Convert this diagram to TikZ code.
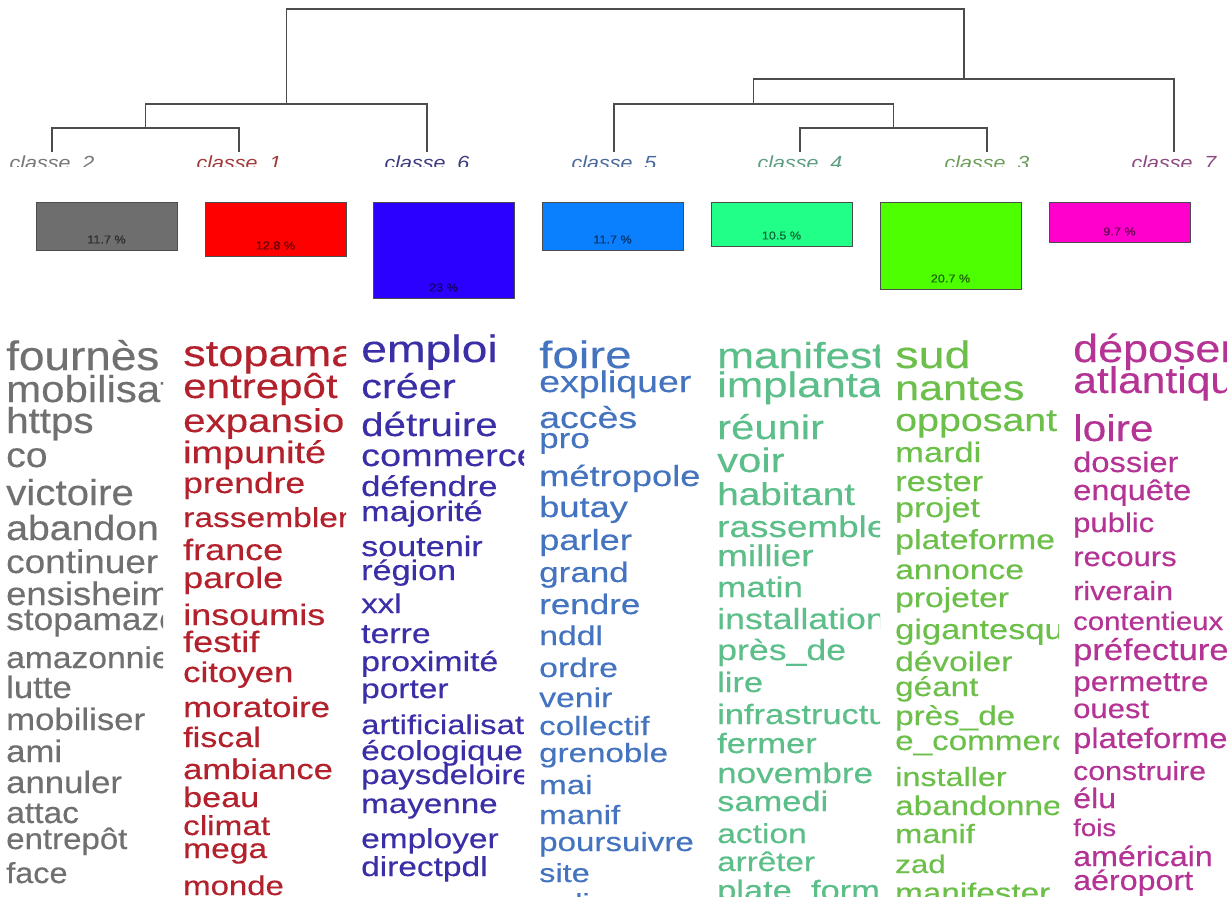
\documentclass[tikz,border=0pt]{standalone}
\usepackage{fontspec}
\setmainfont{Liberation Sans}
\newfontfamily\wfA{Liberation Sans}[FakeStretch=1.12,FakeBold=0.3]
\newfontfamily\wfB{Liberation Sans}[FakeStretch=1.22,FakeBold=0.3]
\newfontfamily\wfC{Liberation Sans}[FakeStretch=1.25,FakeBold=0.3]
\newfontfamily\wfD{Liberation Sans}[FakeStretch=1.23,FakeBold=0.3]
\newfontfamily\wfE{Liberation Sans}[FakeStretch=1.15,FakeBold=0.3]
\newfontfamily\labfont{Liberation Sans}[FakeStretch=1.13]
\newfontfamily\pctfont{Liberation Sans}[FakeStretch=1.1,FakeBold=0.4]
\definecolor{cgrey}{HTML}{707070}
\definecolor{cred}{HTML}{B3222C}
\definecolor{cblue}{HTML}{3B2FA8}
\definecolor{csky}{HTML}{4474C0}
\definecolor{cmint}{HTML}{5CBE88}
\definecolor{cgreen}{HTML}{6CC04A}
\definecolor{cmag}{HTML}{B43394}
\definecolor{fgrey}{HTML}{6E6E6E}
\definecolor{fred}{HTML}{FF0000}
\definecolor{fblue}{HTML}{2B00FF}
\definecolor{fsky}{HTML}{0A80FF}
\definecolor{fmint}{HTML}{22FF88}
\definecolor{fgreen}{HTML}{4DFF00}
\definecolor{fmag}{HTML}{FF00CC}
\definecolor{lgrey}{HTML}{777777}
\definecolor{lred}{HTML}{A33A3A}
\definecolor{lblue}{HTML}{3C3C80}
\definecolor{lsky}{HTML}{4A6A9C}
\definecolor{lmint}{HTML}{5E9E80}
\definecolor{lgreen}{HTML}{6E9E5C}
\definecolor{lmag}{HTML}{8E4A80}
\tikzset{
  dend/.style={draw=black!70, line width=1.2pt},
  classlab/.style={inner sep=0pt, anchor=base, font=\labfont\fontsize{19}{19}\selectfont\itshape},
  pbox/.style={draw=black!70, line width=1pt},
  pct/.style={inner sep=0pt, font=\pctfont\fontsize{11.5}{11.5}\selectfont},
  word/.style={inner sep=0pt, anchor=base west},
}
\newcommand\wordcol[6]{%
  \begin{scope}
    \clip (#2-5,310) rectangle (#3,897);
    \foreach \s/\b/\t [count=\i] in {#6} {
      \node[word, text=#4, font=#5\fontsize{\s}{\s}\selectfont] (#1w\i) at (#2,\b) {\t};
    }
  \end{scope}}
\begin{document}
\begin{tikzpicture}[x=1pt,y=-1pt]
\useasboundingbox (0,0) rectangle (1227,897);
\fill[white] (0,0) rectangle (1227,897);
\clip (0,0) rectangle (1227,897);
% dendrogram coordinates
\coordinate (L2) at (52,152);
\coordinate (L1) at (239,152);
\coordinate (L6) at (427,152);
\coordinate (L5) at (614,152);
\coordinate (L4) at (800,152);
\coordinate (L3) at (987,152);
\coordinate (L7) at (1174,152);
\coordinate (m21) at (145.5,128);
\coordinate (m216) at (286.5,104);
\coordinate (m43) at (893.5,128);
\coordinate (m543) at (753.75,104);
\coordinate (m5437) at (963.9,79);
\coordinate (root) at (625,9);
\draw[dend] (L2) |- (m21) -| (L1);
\draw[dend] (m21) |- (m216) -| (L6);
\draw[dend] (L4) |- (m43) -| (L3);
\draw[dend] (L5) |- (m543) -| (m43);
\draw[dend] (m543) |- (m5437) -| (L7);
\draw[dend] (m216) |- (root) -| (m5437);
% class labels (clipped at bottom)
\begin{scope}
\clip (0,140) rectangle (1227,166.5);
\node[classlab, text=lgrey] (lab2) at (52,169) {classe\_2};
\node[classlab, text=lred] (lab1) at (239,169) {classe\_1};
\node[classlab, text=lblue] (lab6) at (427,169) {classe\_6};
\node[classlab, text=lsky] (lab5) at (614,169) {classe\_5};
\node[classlab, text=lmint] (lab4) at (800,169) {classe\_4};
\node[classlab, text=lgreen] (lab3) at (987,169) {classe\_3};
\node[classlab, text=lmag] (lab7) at (1174,169) {classe\_7};
\end{scope}
% percentage boxes
\foreach \n/\x/\h/\c/\p in {b2/36/48/fgrey/11.7, b1/205/54/fred/12.8, b6/373/96/fblue/23, b5/542/48/fsky/11.7, b4/711/44/fmint/10.5, b3/880/87/fgreen/20.7, b7/1049/40/fmag/9.7}{
  \draw[pbox, fill=\c] (\x,202) rectangle (\x+141,202+\h);
  \node[pct, text=\c!40!black] (\n) at (\x+70.5,202+\h-10.5) {\p\ \%};
}
% word columns
\wordcol{c2}{6}{163}{cgrey}{\wfA}{41/370/fournès, 37.5/402/mobilisation, 36/433/https, 35/467/co, 36/505/victoire, 35/540/abandon, 33/573/continuer, 32.5/605/ensisheim, 31.5/630/stopamazon, 30/668/amazonnie, 31/698/lutte, 31/730/mobiliser, 31/762/ami, 31/793/annuler, 30/823/attac, 29.5/849/entrepôt, 29/883/face, 29/913/cours}
\wordcol{c1}{183}{346}{cred}{\wfB}{37/366/stopamazon, 34.5/398/entrepôt, 33/432/expansion, 31/463/impunité, 29/493/prendre, 27.5/527/rassemblement, 29.5/560/france, 29.5/588/parole, 29.5/625/insoumis, 29.5/652/festif, 28.5/682/citoyen, 28.5/717/moratoire, 28/747/fiscal, 28.3/779/ambiance, 28/807/beau, 27.3/835/climat, 27.5/858/mega, 27/895/monde}
\wordcol{c6}{361}{524}{cblue}{\wfB}{38/362/emploi, 34/398/créer, 33/436/détruire, 31/466/commerce, 28.3/496/défendre, 28/521/majorité, 28/556/soutenir, 28/580/région, 27/613/xxl, 27.7/643/terre, 27.7/671/proximité, 27.4/698/porter, 27/734/artificialisation, 27.4/760/écologique, 27.2/784/paysdeloire, 27.2/813/mayenne, 27.4/848/employer, 27.4/876/directpdl}
\wordcol{c5}{539}{702}{csky}{\wfC}{38/368/foire, 30/392/expliquer, 30/428/accès, 28/448/pro, 29/486/métropole, 29/517/butay, 29/550/parler, 28/582/grand, 28/614/rendre, 27/645/nddl, 27/677/ordre, 27/707/venir, 26.5/735/collectif, 26.5/762/grenoble, 26.5/794/mai, 26.5/824/manif, 26.5/851/poursuivre, 26/882/site, 26/912/police}
\wordcol{c4}{717}{880}{cmint}{\wfD}{36/368/manifestation, 35.5/397/implantation, 34/439/réunir, 34/472/voir, 31.5/505/habitant, 30/537/rassemblement, 30/566/millier, 28.5/597/matin, 29/629/installation, 29/660/près\_de, 28/692/lire, 28/724/infrastructure, 28/753/fermer, 28.5/783/novembre, 28/811/samedi, 27.3/843/action, 27/871/arrêter, 28/900/plate\_forme}
\wordcol{c3}{895}{1059}{cgreen}{\wfD}{38/368/sud, 35/400/nantes, 32/431/opposant, 28/462/mardi, 28/491/rester, 27.5/517/projet, 27.5/549/plateforme, 27.3/579/annonce, 27.3/607/projeter, 28/639/gigantesque, 27.2/671/dévoiler, 27/696/géant, 27/725/près\_de, 27/750/e\_commerce, 26.3/786/installer, 27/815/abandonner, 26.5/843/manif, 25.5/873/zad, 27/902/manifester}
\wordcol{c7}{1073}{1227}{cmag}{\wfE}{39/362/déposer, 37/393/atlantique, 37/441/loire, 28.4/472/dossier, 28.4/500/enquête, 27/532/public, 27/566/recours, 26.5/600/riverain, 25.5/630/contentieux, 30/660/préfecture, 27.5/691/permettre, 27/718/ouest, 28.4/748/plateforme, 26.3/780/construire, 28/808/élu, 24/836/fois, 28/866/américain, 28/890/aéroport}
\end{tikzpicture}
\end{document}
